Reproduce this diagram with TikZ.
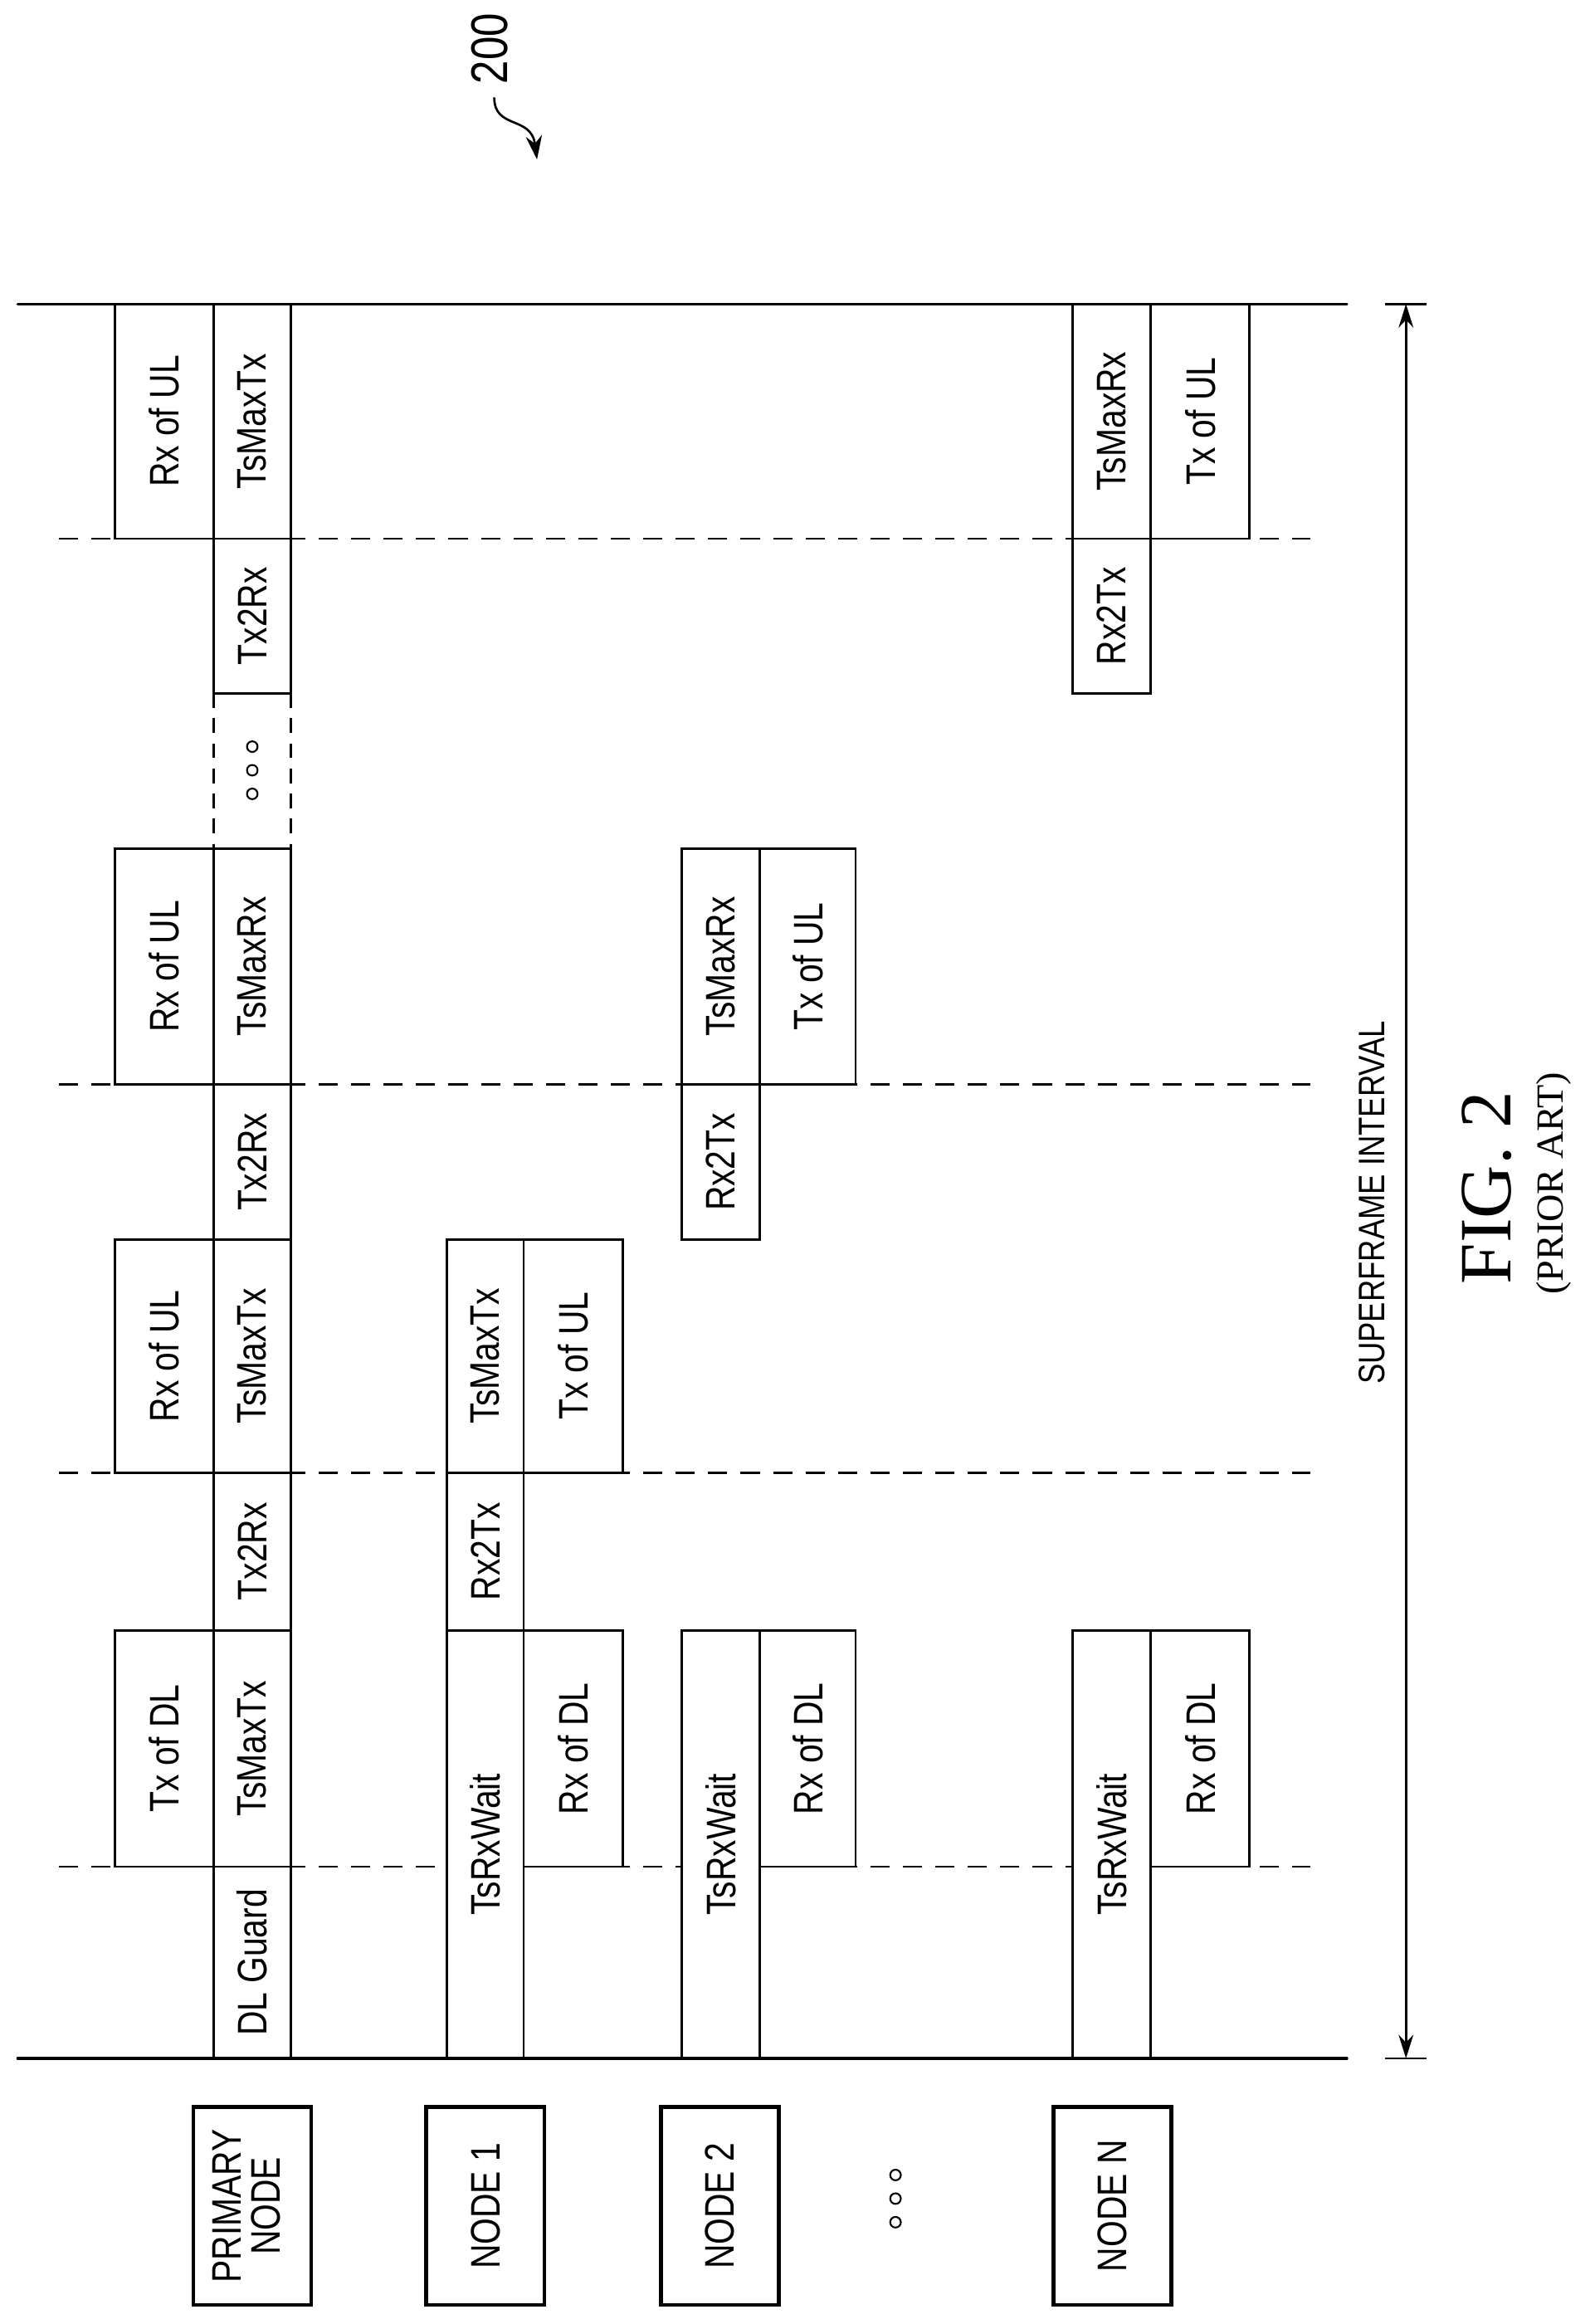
\documentclass[tikz,border=0pt]{standalone}
\usepackage{fontspec}
\setmainfont{Liberation Sans}
\newfontfamily\nf[FakeStretch=0.82]{Liberation Sans}
\newfontfamily\serfont{Liberation Serif}
\usetikzlibrary{arrows.meta}
\tikzset{
 box/.style={draw, line width=1.5pt, fill=white, inner sep=0pt, font=\nf\fontsize{28}{30}\selectfont},
 lbl/.style={draw, line width=2.6pt, fill=white, inner sep=0pt, font=\nf\fontsize{28}{28}\selectfont, align=center},
 dsh/.style={line width=1.5pt, dash pattern=on 13pt off 9pt},
 edge/.style={line width=1.8pt, line cap=round}
}
\newcommand\bx[7][box]{\node[#1, minimum width={(#5-#3)*1pt}, minimum height={(#6-#4)*1pt}] (#2) at ({(#3+#5)/2},{(#4+#6)/2}) {\rotatebox{90}{#7}};}
\begin{document}
\begin{tikzpicture}[x=1pt,y=-1pt]
\useasboundingbox (0,0) rectangle (1081,1575);
% dashed time markers
\foreach \yy in {1265,998,735,365} \draw[dsh] (40,\yy) -- (888,\yy);
\coordinate (tl) at (12,206); \coordinate (tr) at (913,206);
\coordinate (bl) at (12,1395); \coordinate (br) at (913,1395);
% primary
\bx{pg}{145}{1265}{197}{1395}{DL Guard}
\bx{p1}{78}{1105}{145}{1265}{Tx of DL}
\bx{p2}{145}{1105}{197}{1265}{TsMaxTx}
\bx{p3}{145}{998}{197}{1105}{Tx2Rx}
\bx{p4}{78}{840}{145}{998}{Rx of UL}
\bx{p5}{145}{840}{197}{998}{TsMaxTx}
\bx{p6}{145}{735}{197}{840}{Tx2Rx}
\bx{p7}{78}{575}{145}{735}{Rx of UL}
\bx{p8}{145}{575}{197}{735}{TsMaxRx}
\node[inner sep=0, minimum width=52pt, minimum height=105pt] (pd) at (171,522.5) {};
\draw[dsh, dash pattern=on 10pt off 7pt] (pd.north west) -- (pd.south west) (pd.north east) -- (pd.south east);
\foreach \yy in {506,522,538} \draw[line width=1.2pt] (171,\yy) circle (3.6pt);
\bx{p9}{145}{365}{197}{470}{Tx2Rx}
\bx{p10}{78}{206}{145}{365}{Rx of UL}
\bx{p11}{145}{206}{197}{365}{TsMaxTx}
% node 1
\bx{a1}{303}{1105}{355}{1395}{TsRxWait}
\bx{a2}{355}{1105}{422}{1265}{Rx of DL}
\bx{a3}{303}{998}{355}{1105}{Rx2Tx}
\bx{a4}{303}{840}{355}{998}{TsMaxTx}
\bx{a5}{355}{840}{422}{998}{Tx of UL}
% node 2
\bx{b1}{462}{1105}{515}{1395}{TsRxWait}
\bx{b2}{515}{1105}{580}{1265}{Rx of DL}
\bx{b3}{462}{735}{515}{840}{Rx2Tx}
\bx{b4}{462}{575}{515}{735}{TsMaxRx}
\bx{b5}{515}{575}{580}{735}{Tx of UL}
% node N
\bx{n1}{727}{1105}{780}{1395}{TsRxWait}
\bx{n2}{780}{1105}{847}{1265}{Rx of DL}
\bx{n3}{727}{365}{780}{470}{Rx2Tx}
\bx{n4}{727}{206}{780}{365}{TsMaxRx}
\bx{n5}{780}{206}{847}{365}{Tx of UL}
% boundaries
\draw[edge] (tl) -- (tr);
\draw[edge] (bl) -- (br);
% labels
\bx[lbl]{L0}{131}{1428}{211}{1562}{\begin{tabular}{c}PRIMARY\\[-2pt]NODE\end{tabular}}
\bx[lbl]{L1}{289}{1428}{369}{1562}{NODE 1}
\bx[lbl]{L2}{448}{1428}{528}{1562}{NODE 2}
\bx[lbl]{LN}{714}{1428}{794}{1562}{NODE N}
\foreach \yy in {1474,1490,1506} \draw[line width=1.2pt] (607,\yy) circle (3.6pt);
% superframe arrow
\coordinate (at) at (953,206); \coordinate (ab) at (953,1395);
\draw[line width=1.5pt] (939,206) -- (967,206) (939,1395) -- (967,1395);
\draw[line width=1.5pt, {Stealth[length=16pt,width=10pt]}-{Stealth[length=16pt,width=10pt]}] (at) -- (ab);
\node[rotate=90, font=\nf\fontsize{25}{25}\selectfont] (si) at (930,815) {SUPERFRAME INTERVAL};
\node[rotate=90, font=\serfont\fontsize{50}{50}\selectfont] (fig) at (1008,805) {FIG. 2};
\node[rotate=90, font=\serfont\fontsize{26}{26}\selectfont] (pa) at (1053,802) {(PRIOR ART)};
% ref 200
\node[rotate=90, font=\nf\fontsize{35}{35}\selectfont] (r200) at (332,33) {200};
\coordinate (rs) at (335,66); \coordinate (re) at (364,108);
\draw[line width=1.5pt, -{Stealth[length=16pt,width=11pt]}] (rs) .. controls (335,88) and (360,78) .. (re);
\end{tikzpicture}
\end{document}
